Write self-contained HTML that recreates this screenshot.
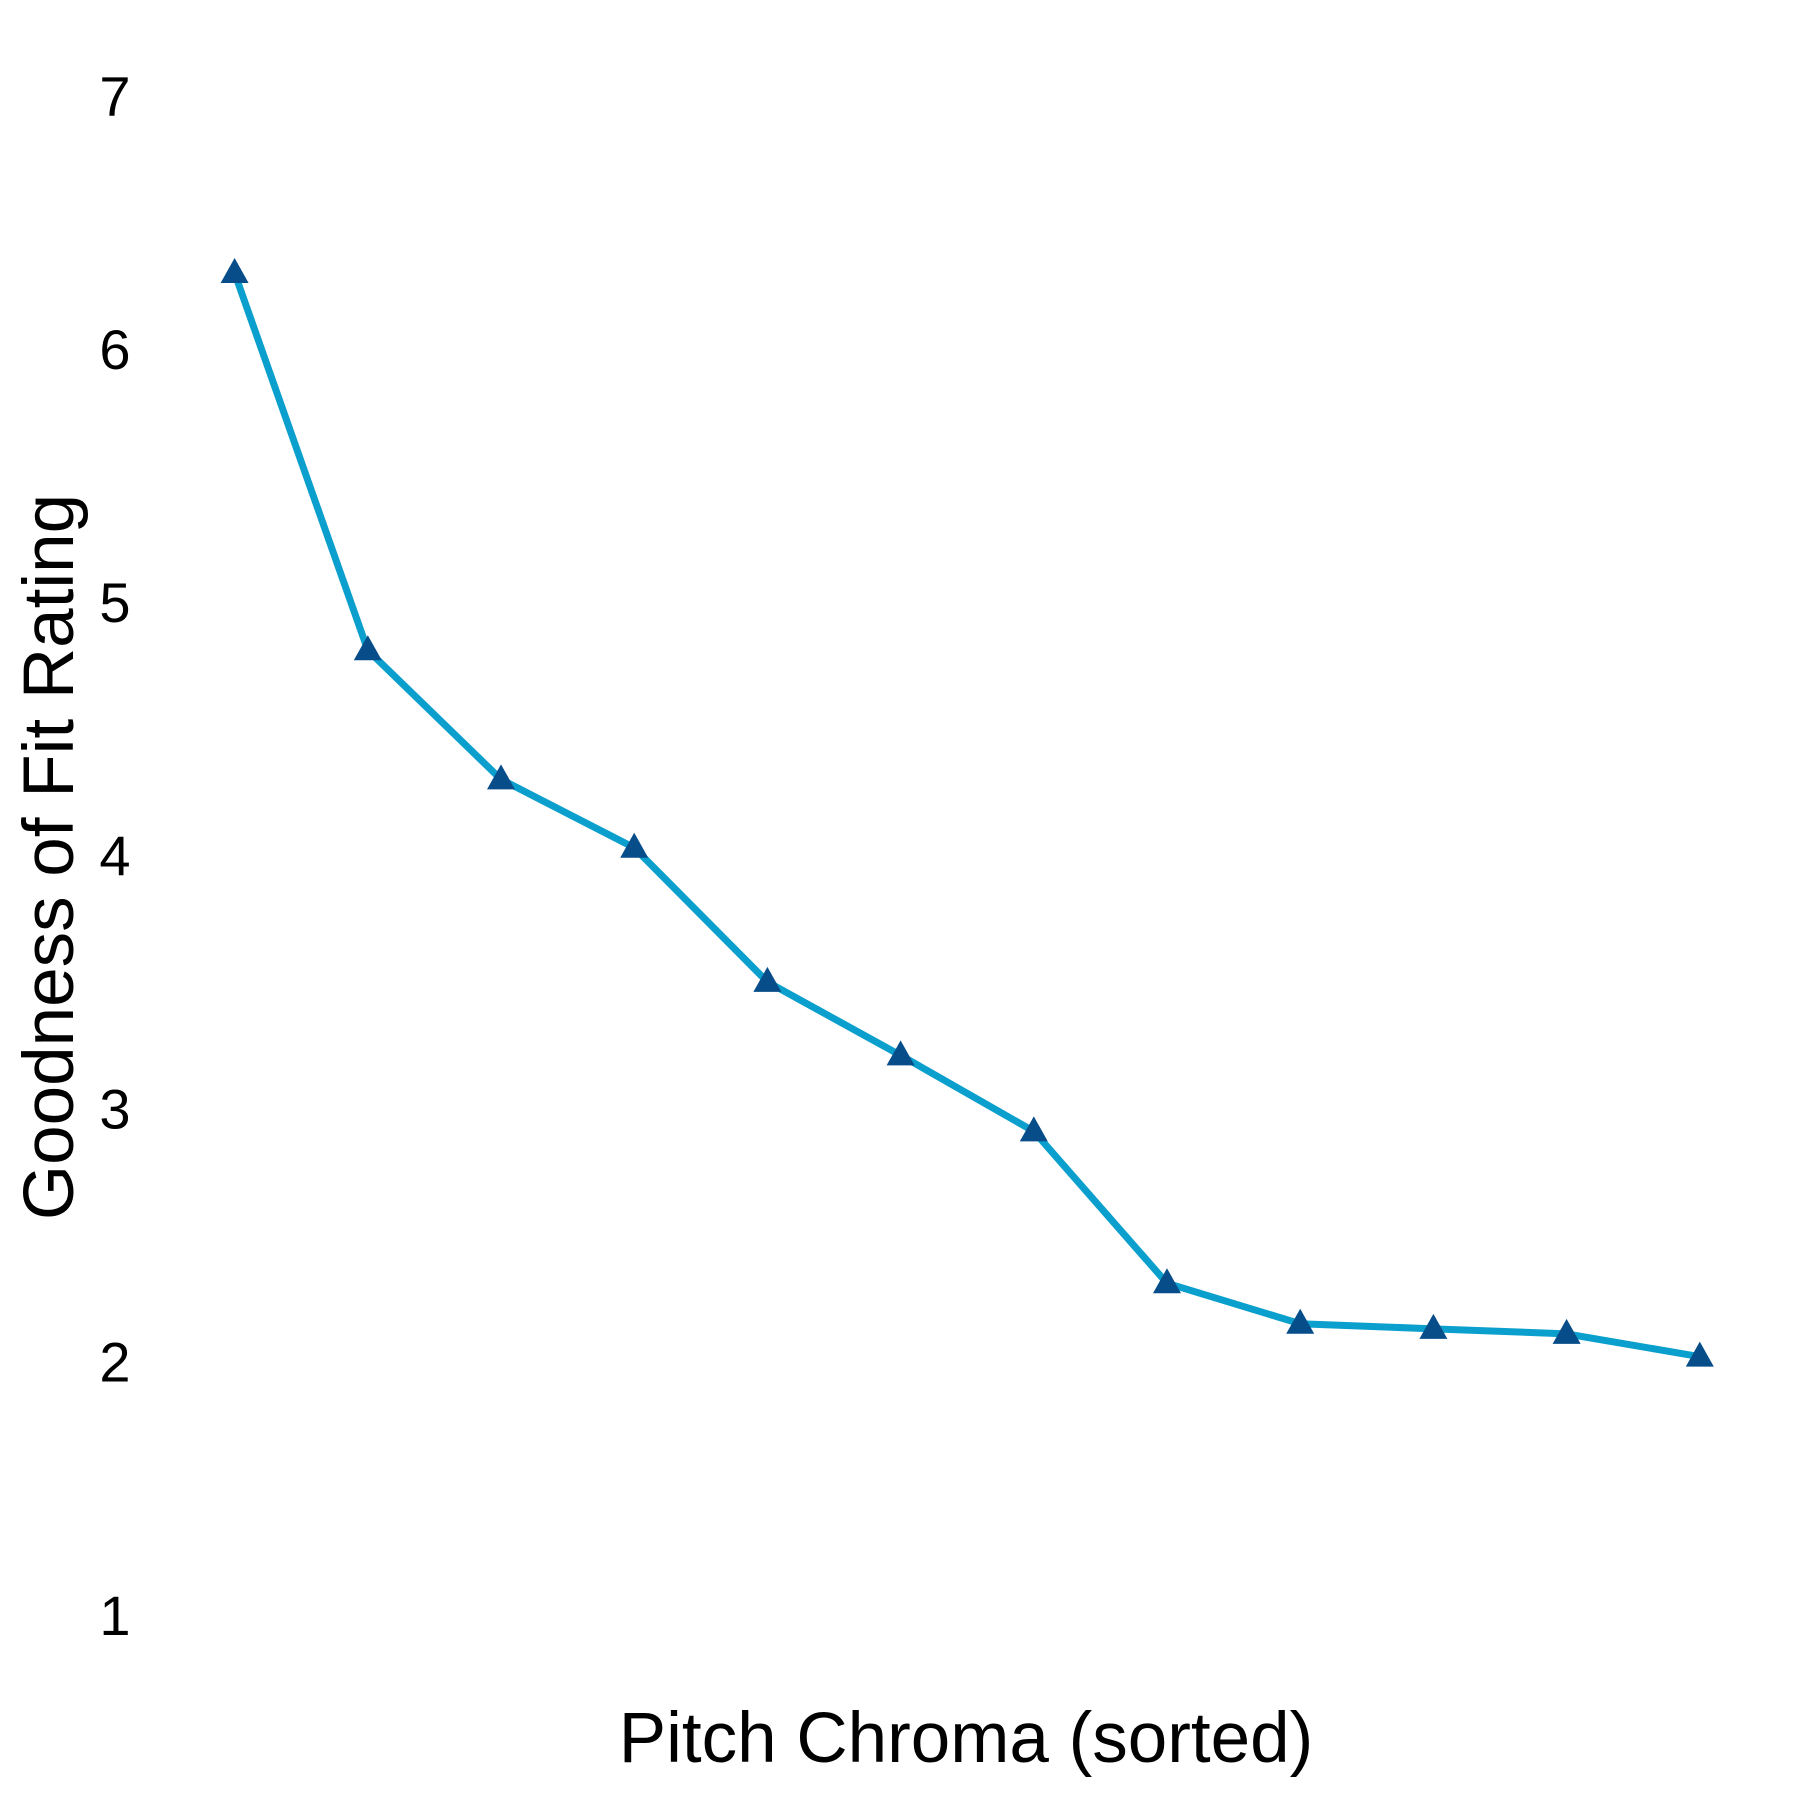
<!DOCTYPE html>
<html><head><meta charset="utf-8"><style>
body{margin:0;background:#fff}
svg{display:block}
text{font-family:"Liberation Sans",Arial,sans-serif;fill:#000}
</style></head><body>
<svg id="chart" width="1800" height="1800" viewBox="0 0 1800 1800">
<g id="yticks"></g>
<text x="54" y="857" font-size="71" text-anchor="middle" dominant-baseline="middle" transform="rotate(-90 54 857)">Goodness of Fit Rating</text>
<text x="966" y="1743" font-size="71" text-anchor="middle" dominant-baseline="middle">Pitch Chroma (sorted)</text>
<g id="series"></g>
</svg>
<script>
const categories = [1,2,3,4,5,6,7,8,9,10,11,12];
const ratings = [6.32,4.83,4.32,4.05,3.52,3.23,2.93,2.33,2.17,2.15,2.13,2.04];
const yTicks = [1,2,3,4,5,6,7];
const NS="http://www.w3.org/2000/svg";
function xs(i){return 234.6+(i-1)*133.2;}
function ys(v){return 1620-(v-1)*253.2;}
const yt=document.getElementById('yticks');
yTicks.forEach(t=>{
  const e=document.createElementNS(NS,'text');
  
  
  e.setAttribute('x',115);e.setAttribute('y',ys(t));
  e.setAttribute('font-size','56');e.setAttribute('text-anchor','middle');
  e.setAttribute('dominant-baseline','middle');
  e.textContent=t;yt.appendChild(e);
});
const g=document.getElementById('series');
const pl=document.createElementNS(NS,'polyline');


pl.setAttribute('points',categories.map((c,i)=>xs(c)+','+ys(ratings[i])).join(' '));
pl.setAttribute('fill','none');pl.setAttribute('stroke','#0a9fcc');pl.setAttribute('stroke-width','7');
g.appendChild(pl);
categories.forEach((c,i)=>{
  const x=xs(c),y=ys(ratings[i]);
  const p=document.createElementNS(NS,'polygon');
  
  
  p.setAttribute('points',`${x},${y-15} ${x-14},${y+10} ${x+14},${y+10}`);
  p.setAttribute('fill','#064d8a');
  g.appendChild(p);
});
</script>
</body></html>
